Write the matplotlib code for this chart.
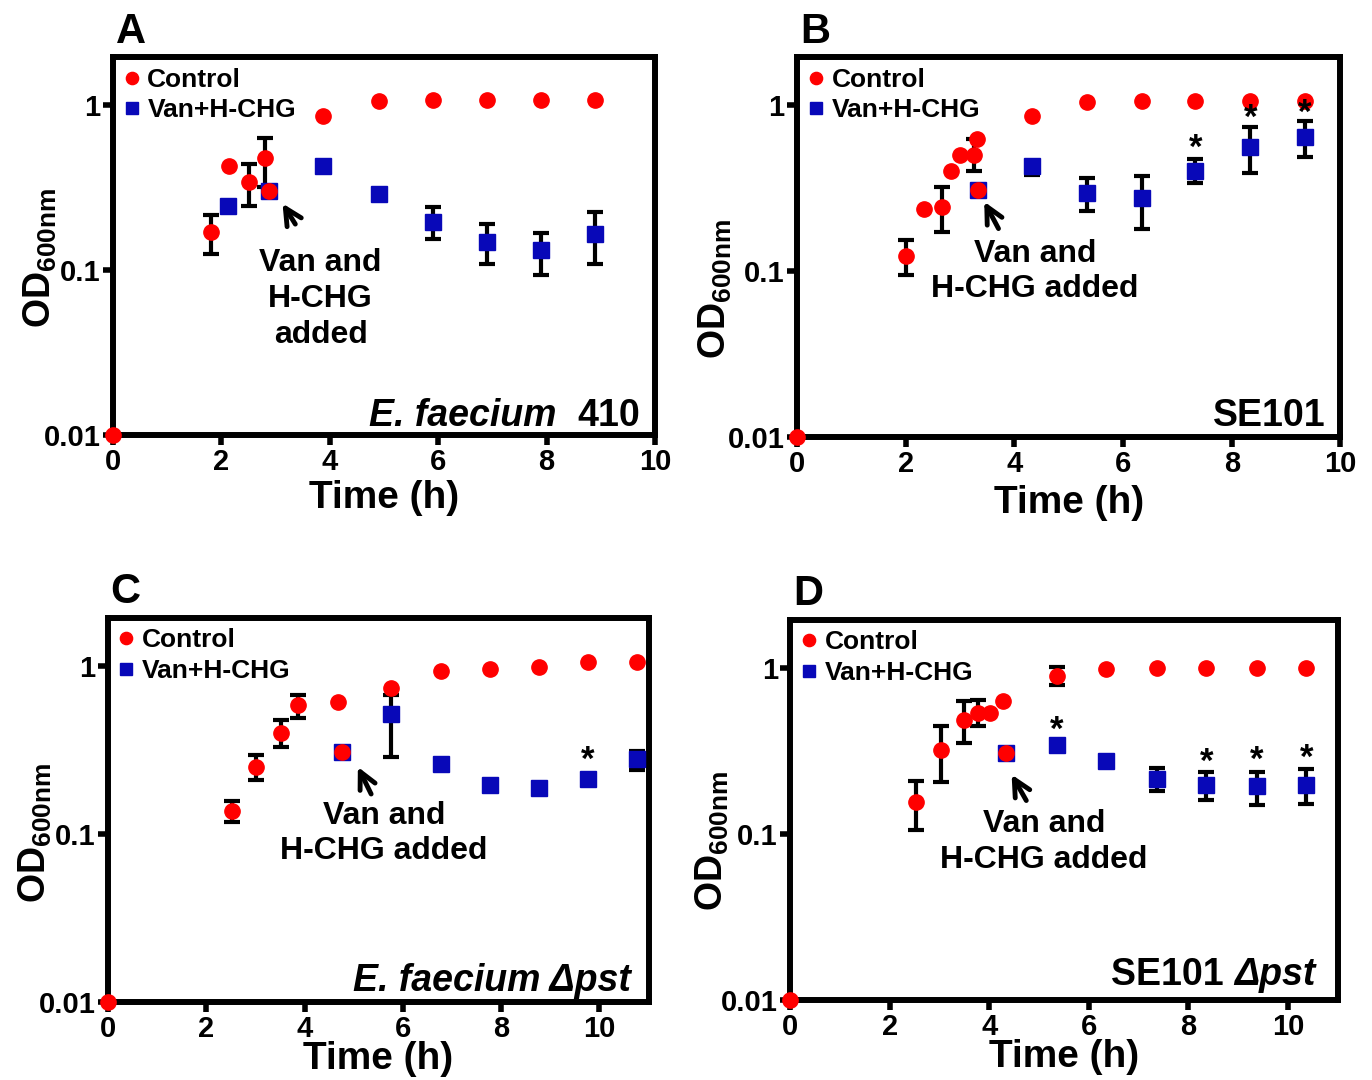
import numpy as np
import matplotlib.pyplot as plt

plt.rcParams['font.family'] = ['Liberation Sans', 'DejaVu Sans']
plt.rcParams['font.weight'] = 'bold'
plt.rcParams['axes.labelweight'] = 'bold'
plt.rcParams['mathtext.fontset'] = 'custom'
plt.rcParams['mathtext.rm'] = 'Liberation Sans:bold'
plt.rcParams['mathtext.bf'] = 'Liberation Sans:bold'
plt.rcParams['mathtext.default'] = 'bf'

nan = np.nan

# panel A - E. faecium 410
a_ctrl_t = [0, 1.8, 2.14, 2.51, 2.8, 2.88, 3.88, 4.9, 5.9, 6.9, 7.9, 8.9]
a_ctrl_od = [0.01, 0.17, 0.425, 0.343, 0.478, 0.30, 0.86, 1.06, 1.07, 1.08, 1.07, 1.08]
a_ctrl_lo = [nan, 0.126, nan, 0.246, 0.32, nan, nan, nan, nan, nan, nan, nan]
a_ctrl_hi = [nan, 0.217, nan, 0.44, 0.63, nan, nan, nan, nan, nan, nan, nan]
a_van_t = [2.13, 2.88, 3.88, 4.9, 5.9, 6.9, 7.9, 8.9]
a_van_od = [0.244, 0.30, 0.43, 0.29, 0.196, 0.149, 0.132, 0.166]
a_van_lo = [nan, nan, nan, nan, 0.154, 0.109, 0.093, 0.109]
a_van_hi = [nan, nan, nan, nan, 0.242, 0.191, 0.169, 0.224]

# panel B - SE101
b_ctrl_t = [0, 2.0, 2.33, 2.66, 2.83, 3.0, 3.25, 3.31, 3.32, 4.33, 5.34, 6.34, 7.33, 8.34, 9.34]
b_ctrl_od = [0.01, 0.124, 0.236, 0.244, 0.404, 0.50, 0.50, 0.63, 0.31, 0.86, 1.05, 1.06, 1.06, 1.06, 1.06]
b_ctrl_lo = [nan, 0.095, nan, 0.172, nan, nan, 0.40, nan, nan, nan, nan, nan, nan, nan, nan]
b_ctrl_hi = [nan, 0.154, nan, 0.324, nan, nan, 0.63, nan, nan, nan, nan, nan, nan, nan, nan]
b_van_t = [3.32, 4.33, 5.34, 6.34, 7.33, 8.34, 9.34]
b_van_od = [0.31, 0.43, 0.296, 0.278, 0.40, 0.565, 0.643]
b_van_lo = [nan, 0.38, 0.231, 0.18, 0.34, 0.39, 0.49]
b_van_hi = [nan, 0.45, 0.365, 0.376, 0.475, 0.74, 0.80]
b_star_t = [7.33, 8.34, 9.34]
b_star_od = [0.55, 0.83, 0.89]

# panel C - E. faecium dpst
c_ctrl_t = [0, 2.52, 3.02, 3.52, 3.86, 4.68, 4.76, 5.76, 6.77, 7.77, 8.77, 9.77, 10.77]
c_ctrl_od = [0.01, 0.138, 0.251, 0.403, 0.587, 0.61, 0.31, 0.746, 0.946, 0.96, 0.99, 1.07, 1.06]
c_ctrl_lo = [nan, 0.119, 0.212, 0.332, 0.49, nan, nan, nan, nan, nan, nan, nan, nan]
c_ctrl_hi = [nan, 0.157, 0.296, 0.483, 0.68, nan, nan, nan, nan, nan, nan, nan, nan]
c_van_t = [4.76, 5.76, 6.77, 7.77, 8.77, 9.77, 10.77]
c_van_od = [0.31, 0.523, 0.264, 0.198, 0.19, 0.215, 0.28]
c_van_lo = [nan, 0.29, nan, nan, nan, nan, 0.243]
c_van_hi = [nan, 0.68, nan, nan, nan, nan, 0.314]
c_star_t = [9.77]
c_star_od = [0.276]

# panel D - SE101 dpst
d_ctrl_t = [0, 2.52, 3.02, 3.5, 3.77, 4.02, 4.27, 4.33, 5.35, 6.35, 7.36, 8.36, 9.37, 10.37]
d_ctrl_od = [0.01, 0.156, 0.319, 0.486, 0.538, 0.538, 0.633, 0.309, 0.89, 0.99, 1.0, 1.0, 1.0, 1.0]
d_ctrl_lo = [nan, 0.106, 0.205, 0.355, 0.446, nan, nan, nan, 0.79, nan, nan, nan, nan, nan]
d_ctrl_hi = [nan, 0.21, 0.449, 0.633, 0.642, nan, nan, nan, 1.01, nan, nan, nan, nan, nan]
d_van_t = [4.33, 5.35, 6.35, 7.36, 8.36, 9.37, 10.37]
d_van_od = [0.31, 0.345, 0.276, 0.215, 0.198, 0.194, 0.198]
d_van_lo = [nan, nan, nan, 0.182, 0.161, 0.149, 0.151]
d_van_hi = [nan, nan, nan, 0.249, 0.238, 0.238, 0.247]
d_star_t = [5.35, 8.36, 9.37, 10.37]
d_star_od = [0.42, 0.271, 0.277, 0.284]


def err(ax, t, od, lo, hi):
    t, od, lo, hi = map(np.array, (t, od, lo, hi))
    m = ~np.isnan(lo)
    ax.errorbar(t[m], od[m], yerr=[od[m] - lo[m], hi[m] - od[m]], fmt='none',
                ecolor='k', elinewidth=3, capsize=5.5, capthick=3, zorder=2)


def panel(ax, letter, ct, cod, clo, chi, vt, vod, vlo, vhi, xmax,
          ylab_xy, xpad):
    err(ax, ct, cod, clo, chi)
    err(ax, vt, vod, vlo, vhi)
    ax.plot(vt, vod, 's', color='#0808b8', markersize=11, label='Van+H-CHG',
            zorder=3, clip_on=False)
    ax.plot(ct, cod, 'o', color='#ff0000', markersize=11, label='Control',
            zorder=4, clip_on=False)
    ax.set_yscale('log')
    ax.set_ylim(0.01, 1.95)
    ax.set_xlim(0, xmax)
    ax.set_yticks([0.01, 0.1, 1])
    ax.set_yticklabels(['0.01', '0.1', '1'])
    ax.minorticks_off()
    ax.set_xticks([0, 2, 4, 6, 8, 10])
    ax.tick_params(labelsize=21, length=7, width=4, pad=2)
    for s in ax.spines.values():
        s.set_linewidth(4.3)
    ax.set_xlabel('Time (h)', fontsize=28, labelpad=xpad)
    ax.set_ylabel(r'OD$_{600nm}$', fontsize=27)
    ax.yaxis.label.set_va('center')
    ax.yaxis.set_label_coords(*ylab_xy)
    h, l = ax.get_legend_handles_labels()
    ax.legend(h[::-1], l[::-1], loc='upper left', fontsize=19, frameon=False,
              handlelength=0.6, handletextpad=0.3, labelspacing=0.25,
              borderaxespad=0.2, borderpad=0.2, markerscale=0.8)
    ax.text(0.005, 1.015, letter, transform=ax.transAxes, fontsize=30,
            ha='left', va='bottom')


fig = plt.figure(figsize=(13.72, 10.8), dpi=100)
axA = fig.add_axes([0.0824, 0.597, 0.395, 0.350])
axB = fig.add_axes([0.581, 0.595, 0.396, 0.352])
axC = fig.add_axes([0.0787, 0.072, 0.394, 0.356])
axD = fig.add_axes([0.576, 0.074, 0.399, 0.352])

panel(axA, 'A', a_ctrl_t, a_ctrl_od, a_ctrl_lo, a_ctrl_hi,
      a_van_t, a_van_od, a_van_lo, a_van_hi, 10, (-0.135, 0.47), 3)
panel(axB, 'B', b_ctrl_t, b_ctrl_od, b_ctrl_lo, b_ctrl_hi,
      b_van_t, b_van_od, b_van_lo, b_van_hi, 10, (-0.15, 0.39), 5)
panel(axC, 'C', c_ctrl_t, c_ctrl_od, c_ctrl_lo, c_ctrl_hi,
      c_van_t, c_van_od, c_van_lo, c_van_hi, 11, (-0.135, 0.44), -1)
panel(axD, 'D', d_ctrl_t, d_ctrl_od, d_ctrl_lo, d_ctrl_hi,
      d_van_t, d_van_od, d_van_lo, d_van_hi, 11, (-0.143, 0.42), -1)

# asterisks
for ax, st, so in [(axB, b_star_t, b_star_od), (axC, c_star_t, c_star_od),
                   (axD, d_star_t, d_star_od)]:
    for x, y in zip(st, so):
        ax.text(x, y, '*', fontsize=25, ha='center', va='center', zorder=5)

# arrows + "added" notes
arrow = dict(arrowstyle='->', lw=3.5, color='k', mutation_scale=30)
axA.annotate('', xy=(3.1, 0.262), xytext=(3.39, 0.184), arrowprops=arrow)
axA.text(3.83, 0.067, 'Van and\nH-CHG\nadded', fontsize=23, ha='center',
         va='center', linespacing=1.25)
axB.annotate('', xy=(3.42, 0.272), xytext=(3.73, 0.175), arrowprops=arrow)
axB.text(4.38, 0.1, 'Van and\nH-CHG added', fontsize=23, ha='center',
         va='center', linespacing=1.25)
axC.annotate('', xy=(5.06, 0.261), xytext=(5.38, 0.168), arrowprops=arrow)
axC.text(5.62, 0.101, 'Van and\nH-CHG added', fontsize=23, ha='center',
         va='center', linespacing=1.25)
axD.annotate('', xy=(4.42, 0.236), xytext=(4.77, 0.154), arrowprops=arrow)
axD.text(5.1, 0.09, 'Van and\nH-CHG added', fontsize=23, ha='center',
         va='center', linespacing=1.25)

# strain names
t = axA.text(0.972, 0.025, '410', transform=axA.transAxes, fontsize=27,
             ha='right', va='baseline')
axA.annotate('E. faecium  ', xy=(0, 0), xycoords=t, fontsize=27,
             style='italic', ha='right', va='bottom')
axB.text(0.972, 0.03, 'SE101', transform=axB.transAxes, fontsize=27,
         ha='right', va='baseline')
axC.text(0.967, 0.03, 'E. faecium Δpst', transform=axC.transAxes,
         fontsize=27, style='italic', ha='right', va='baseline')
t = axD.text(0.96, 0.04, 'Δpst', transform=axD.transAxes, fontsize=27,
             style='italic', ha='right', va='baseline')
axD.annotate('SE101 ', xy=(0, 0), xycoords=t, fontsize=27,
             ha='right', va='bottom')

fig.savefig('out.png', dpi=100)
